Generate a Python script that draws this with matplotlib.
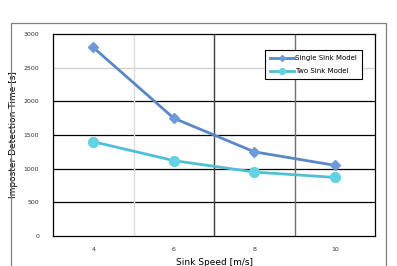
import matplotlib
matplotlib.use("Agg")
import matplotlib.pyplot as plt
from matplotlib.patches import Rectangle

# data
speeds = ["4", "6", "8", "10"]
single_sink = [2800, 1750, 1250, 1050]
two_sink = [1400, 1120, 950, 870]
yticks = [0, 500, 1000, 1500, 2000, 2500, 3000]

W, H = 397, 266
fig = plt.figure(figsize=(W / 100, H / 100), dpi=100)

# outer chart frame (runs off the bottom edge)
fig.patches.append(Rectangle((11 / W, -0.05), 375 / W, 1.05 - 23 / H,
                             transform=fig.transFigure, fill=False,
                             edgecolor="#7f7f7f", linewidth=0.9))

ax = fig.add_axes([53 / W, 1 - 236 / H, 322 / W, 202 / H])
x = list(range(len(speeds)))

# grid lines
for yv in yticks[1:-1]:
    ax.axhline(yv, color="#d0d0d0" if yv == 2500 else "black", lw=0.9, zorder=1)
for xv, c in zip([0.5, 1.5, 2.5], ["#dddddd", "#404040", "#707070"]):
    ax.axvline(xv, color=c, lw=1.0, zorder=1)

ax.plot(x, single_sink, color="#5a87c5", lw=2, marker="D", ms=5,
        mec="#6e9bd8", mfc="#6e9bd8", label="Single Sink Model", zorder=3)
ax.plot(x, two_sink, color="#4ec0d3", lw=2, marker="o", ms=7,
        mec="#62d2e4", mfc="#62d2e4", label="Two Sink Model", zorder=3)

ax.set_xlim(-0.5, 3.5)
ax.set_ylim(0, 3000)
ax.set_xticks(x)
ax.set_xticklabels(speeds)
ax.set_yticks(yticks)
ax.tick_params(length=0, labelsize=4.5, colors="#333333", pad=8)
ax.tick_params(axis="y", pad=10)
for s in ax.spines.values():
    s.set_color("black")
    s.set_linewidth(0.9)

ax.set_xlabel("Sink Speed [m/s]", fontsize=6.5, labelpad=4)
ax.set_ylabel("Imposter Detection Time [s]", fontsize=6.5, labelpad=4)

leg = ax.legend(loc="upper right", bbox_to_anchor=(0.96, 0.92), fontsize=5,
                fancybox=False, framealpha=1, edgecolor="black",
                handlelength=3.5, handletextpad=0.2, borderpad=0.7,
                labelspacing=1.0, markerscale=0.6, borderaxespad=0)
leg.get_frame().set_linewidth(0.8)

fig.savefig("out.png", dpi=100)
